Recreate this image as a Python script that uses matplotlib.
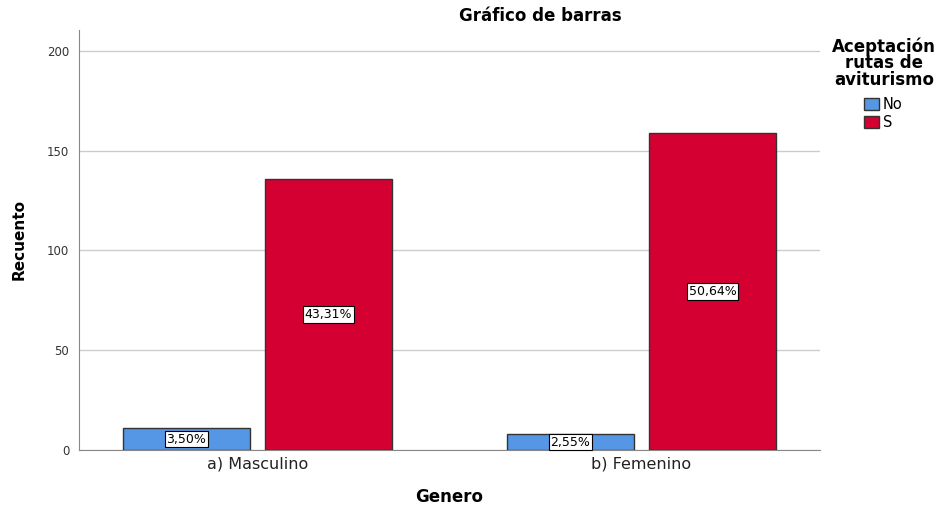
import numpy as np
import matplotlib
matplotlib.use("Agg")
import matplotlib.pyplot as plt
from matplotlib.patches import Patch

plt.rcParams['font.family'] = ['DejaVu Sans']

categories = ["a) Masculino", "b) Femenino"]
counts_no = [11, 8]
counts_si = [136, 159]
pct_no = ["3,50%", "2,55%"]
pct_si = ["43,31%", "50,64%"]
legend_labels = ["No", "S"]

color_no = "#5597E5"
color_si = "#D50032"

fig = plt.figure(figsize=(9.45, 5.13), dpi=100)
ax = fig.add_axes([79/945, 63/513, (820-79)/945, (450-30)/513])

x = np.arange(len(categories))
width = 0.331
off = 0.185
bars_no = ax.bar(x - off, counts_no, width, color=color_no, edgecolor="#333333", linewidth=1.0, zorder=3)
bars_si = ax.bar(x + off, counts_si, width, color=color_si, edgecolor="#333333", linewidth=1.0, zorder=3)

# percentage labels in white boxes at mid-height of each bar
box = dict(boxstyle="square,pad=0.15", facecolor="white", edgecolor="black", linewidth=0.8)
for bars, labels in [(bars_no, pct_no), (bars_si, pct_si)]:
    for b, lab in zip(bars, labels):
        ax.text(b.get_x() + b.get_width() / 2, b.get_height() / 2, lab,
                ha="center", va="center", fontsize=9, bbox=box, zorder=4)

ax.set_xlim(-0.465, 1.465)
ax.set_ylim(0, 210.5)
ax.set_yticks([0, 50, 100, 150, 200])
ax.yaxis.grid(True, color="#cccccc", linewidth=1.0, zorder=0)
ax.set_axisbelow(True)
ax.set_xticks(x)
ax.set_xticklabels(categories, fontsize=11.5, color="#222222")
ax.tick_params(axis="y", length=0, labelsize=8.5, labelcolor="#333333", pad=7)
ax.tick_params(axis="x", length=0, pad=5)
for s in ["top", "right"]:
    ax.spines[s].set_visible(False)
ax.spines["left"].set_color("#888888")
ax.spines["bottom"].set_color("#888888")

fig.text(19/945, 1 - 240/513, "Recuento", rotation=90, ha="center", va="center",
         fontsize=11, fontweight="bold")
fig.text(449/945, 1 - 497/513, "Genero", ha="center", va="center", fontsize=12, fontweight="bold")
fig.text(540/945, 1 - 16/513, "Gráfico de barras", ha="center", va="center", fontsize=12, fontweight="bold")

fig.text(884/945, 1 - 63/513, "Aceptación\nrutas de\naviturismo", ha="center", va="center",
         fontsize=12, fontweight="bold", linespacing=0.88)
handles = [Patch(facecolor=color_no, edgecolor="#333333"), Patch(facecolor=color_si, edgecolor="#333333")]
fig.legend(handles, legend_labels, loc="upper left", bbox_to_anchor=(864/945, 1 - 97/513),
           frameon=False, fontsize=10.5, handlelength=1.0, handleheight=0.95, handletextpad=0.3,
           labelspacing=0.2, borderaxespad=0, borderpad=0)

fig.savefig("out.png", dpi=100)
